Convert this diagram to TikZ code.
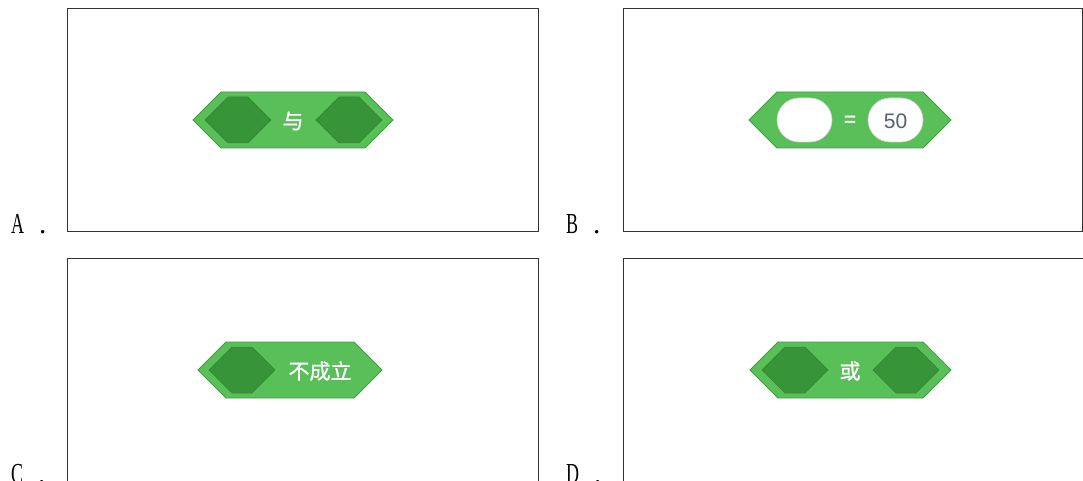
\documentclass[tikz,border=0pt]{standalone}
\usepackage{fontspec}
\setmainfont{Liberation Serif}
\newfontfamily\cjkfont[FakeBold=1.1]{Noto Sans CJK SC}
\newfontfamily\blocksans[FakeBold=1.1]{Liberation Sans}
\newfontfamily\valuesans{Liberation Sans}
\usepackage{graphicx}

\definecolor{opgreen}{HTML}{59C059}
\definecolor{opdark}{HTML}{389438}
\definecolor{opedge}{HTML}{3E9E3E}
\definecolor{valtext}{HTML}{575E75}
\definecolor{frame}{HTML}{333333}

% hexagon with 45-degree points: left x, right x, top y, bottom y
\newcommand\hexshape[4]{(#1,{(#3+#4)/2}) -- ({#1+(#4-#3)/2},#3) -- ({#2-(#4-#3)/2},#3) -- (#2,{(#3+#4)/2}) -- ({#2-(#4-#3)/2},#4) -- ({#1+(#4-#3)/2},#4) -- cycle}

\tikzset{
  panel/.style={draw=frame, line width=0.9pt},
  outerblock/.style={fill=opgreen, draw=opedge, line width=0.8pt},
  innerslot/.style={fill=opdark, draw=opdark!90!black, line width=0.5pt},
  valslot/.style={fill=white, draw=black!18, line width=0.6pt, rounded corners=22pt},
  blocktxt/.style={text=white, font=\cjkfont\fontsize{21}{21}\selectfont, inner sep=0pt},
  opsign/.style={text=white, font=\blocksans\fontsize{21}{21}\selectfont, inner sep=0pt},
  valtxt/.style={text=valtext, font=\valuesans\fontsize{21}{21}\selectfont, inner sep=0pt},
  choice/.style={font=\fontsize{29}{29}\selectfont, inner sep=0pt, anchor=base west},
}

\begin{document}
\begin{tikzpicture}[x=1pt, y=-1pt]
\useasboundingbox (0,0) rectangle (1083,481);

% answer frames
\draw[panel] (67,8) rectangle (538,231);
\draw[panel] (623,8) rectangle (1082.5,231);
\draw[panel] (67,258) -- (67,490) (67,258) -- (538,258) -- (538,490);
\draw[panel] (623,258) -- (623,490) (623,258) -- (1082.5,258);

% choice letters
\node[choice] (la) at (11,233) {\scalebox{0.62}[1]{A}\hspace{15pt}.};
\node[choice] (lb) at (566,233) {\scalebox{0.62}[1]{B}\hspace{15pt}.};
\node[choice] (lc) at (11,483) {\scalebox{0.62}[1]{C}\hspace{15pt}.};
\node[choice] (ld) at (566,483) {\scalebox{0.62}[1]{D}\hspace{15pt}.};

% A: "and" block
\draw[outerblock] \hexshape{193}{393}{92}{148};
\draw[innerslot] \hexshape{205}{271}{97}{143};
\draw[innerslot] \hexshape{316}{382}{97}{143};
\node[blocktxt] (ta) at (293,121) {与};

% B: "equals" block
\draw[outerblock] \hexshape{749}{951}{92}{148};
\draw[valslot] (777,98) rectangle (832,142);
\draw[valslot] (868,98) rectangle (923,142);
\node[opsign] (tb) at (850,121) {=};
\node[valtxt] (vb) at (895.5,121) {50};

% C: "not" block
\draw[outerblock] \hexshape{198}{382}{342}{398};
\draw[innerslot] \hexshape{209}{275}{347}{393};
\node[blocktxt] (tc) at (320,371) {不成立};

% D: "or" block
\draw[outerblock] \hexshape{750}{951}{342}{398};
\draw[innerslot] \hexshape{762}{828}{347}{393};
\draw[innerslot] \hexshape{873}{939}{347}{393};
\node[blocktxt] (td) at (850,371) {或};
\end{tikzpicture}
\end{document}
